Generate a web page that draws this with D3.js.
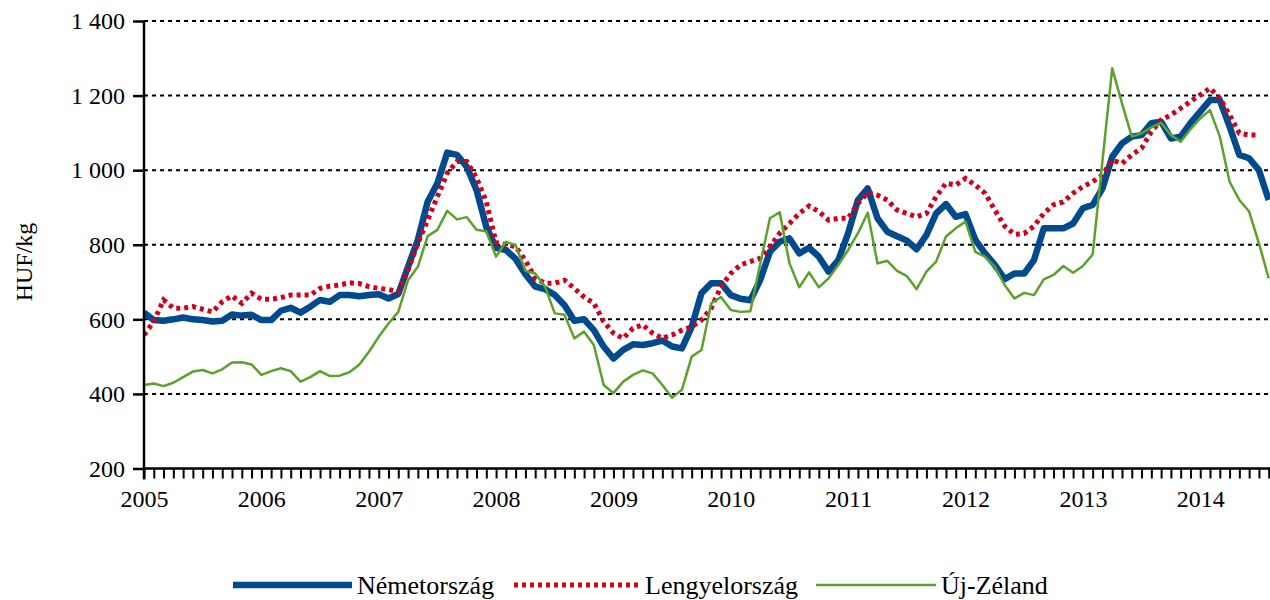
<!DOCTYPE html>
<html>
<head>
<meta charset="utf-8">
<script src="https://cdn.jsdelivr.net/npm/d3@7"></script>
<style>
  html, body { margin: 0; padding: 0; background: #fff; }
  svg { display: block; font-family: "Liberation Serif", "Times New Roman", serif; }
</style>
</head>
<body>
<svg id="chart" width="1270" height="600"></svg>
<script>
// Years shown on the axis (one label per January)
const yearLabels = ['2005', '2006', '2007', '2008', '2009', '2010', '2011', '2012', '2013', '2014'];
const yTicks = [200, 400, 600, 800, 1000, 1200, 1400];

// Monthly prices, HUF/kg, from 2005 January
const nemetorszag = [
    618, 598, 596, 600, 605, 600, 598, 594, 596, 613, 610, 612,
    598, 598, 623, 631, 618, 634, 652, 647, 665, 665, 662, 665,
    667, 656, 668, 741, 813, 915, 965, 1047, 1041, 1009, 947, 848,
    792, 786, 762, 721, 688, 681, 665, 638, 596, 600, 571, 527,
    495, 518, 533, 531, 536, 543, 527, 522, 580, 670, 697, 697,
    665, 655, 651, 705, 781, 808, 817, 777, 792, 768, 728, 759,
    831, 920, 951, 871, 835, 823, 811, 788, 826, 884, 909, 875,
    882, 813, 777, 746, 708, 723, 723, 759, 844, 844, 844, 857,
    898, 907, 951, 1036, 1072, 1090, 1094, 1126, 1130, 1085, 1090, 1126,
    1157, 1188, 1188, 1117, 1041, 1032, 1000, 920
];
const lengyelorszag = [
    558, 594, 652, 630, 630, 634, 627, 620, 647, 663, 643, 670,
    654, 654, 658, 665, 665, 665, 683, 689, 692, 698, 696, 688,
    683, 680, 674, 732, 804, 866, 929, 992, 1023, 1023, 980, 915,
    806, 800, 795, 758, 710, 697, 697, 705, 683, 660, 643, 594,
    563, 549, 576, 585, 563, 549, 558, 571, 580, 598, 630, 688,
    723, 746, 755, 764, 795, 831, 857, 884, 904, 889, 866, 871,
    871, 911, 940, 933, 920, 893, 884, 875, 884, 929, 965, 960,
    978, 960, 938, 893, 850, 828, 830, 850, 884, 907, 915, 938,
    956, 969, 987, 1027, 1018, 1041, 1059, 1103, 1135, 1148, 1166, 1184,
    1202, 1220, 1193, 1148, 1099, 1094, 1094
];
const ujZeland = [
    424, 428, 421, 430, 445, 460, 464, 455, 466, 484, 485, 479,
    451, 461, 469, 461, 433, 445, 461, 448, 449, 458, 478, 513,
    553, 589, 620, 705, 741, 823, 840, 891, 868, 874, 840, 836,
    768, 808, 799, 730, 723, 688, 616, 612, 549, 567, 531, 424,
    402, 433, 451, 463, 455, 424, 390, 411, 500, 518, 643, 660,
    625, 620, 622, 748, 871, 887, 750, 686, 726, 686, 710, 746,
    786, 831, 886, 750, 757, 730, 716, 681, 728, 755, 822, 844,
    862, 781, 768, 741, 692, 656, 671, 665, 707, 719, 743, 725,
    743, 774, 1025, 1273, 1179, 1090, 1099, 1115, 1127, 1094, 1076, 1110,
    1139, 1161, 1090, 969, 920, 889, 804, 710
];

const seriesNames = ['Németország', 'Lengyelország', 'Új-Zéland'];
const seriesColors = ['#004a8d', '#d0021b', '#5ba12c'];

// Layout
const margin = { left: 144, top: 21, bottom: 468.5 };
const monthStep = 9.78;
const nMonths = nemetorszag.length;

const svg = d3.select('#chart');

const x = d3.scaleLinear()
    .domain([0, nMonths - 1])
    .range([margin.left, margin.left + (nMonths - 1) * monthStep]);
const y = d3.scaleLinear()
    .domain([200, 1400])
    .range([margin.bottom, margin.top]);

const fmt = d3.formatLocale({ decimal: ',', thousands: ' ', grouping: [3], currency: ['', ''] }).format(',');

// Grid lines
svg.append('g')
    .attr('class', 'grid')
    .selectAll('line')
    .data(yTicks.filter(d => d > 200))
    .join('line')
    .attr('x1', margin.left)
    .attr('x2', 1270)
    .attr('y1', d => y(d))
    .attr('y2', d => y(d))
    .attr('stroke', '#000')
    .attr('stroke-width', 2)
    .attr('stroke-dasharray', '4 4');

// Series lines
svg.append('clipPath').attr('id', 'plotclip')
    .append('rect').attr('x', margin.left).attr('y', 0).attr('width', 1270 - margin.left).attr('height', 470);

const line = d3.line()
    .x((d, i) => x(i))
    .y(d => y(d));

const plotG = svg.append('g').attr('clip-path', 'url(#plotclip)');
plotG.append('path')
    .datum(nemetorszag)
    .attr('d', line)
    .attr('fill', 'none')
    .attr('stroke', seriesColors[0])
    .attr('stroke-width', 6.5)
    .attr('stroke-linejoin', 'round');
plotG.append('path')
    .datum(lengyelorszag)
    .attr('d', line)
    .attr('fill', 'none')
    .attr('stroke', seriesColors[1])
    .attr('stroke-width', 5)
    .attr('stroke-dasharray', '4 4');
plotG.append('path')
    .datum(ujZeland)
    .attr('d', line)
    .attr('fill', 'none')
    .attr('stroke', seriesColors[2])
    .attr('stroke-width', 2.5)
    .attr('stroke-linejoin', 'round');

// Y axis
const yAxisG = svg.append('g')
    .attr('transform', `translate(${margin.left},0)`)
    .call(d3.axisLeft(y).tickValues(yTicks).tickSize(11).tickPadding(8).tickFormat(fmt));
yAxisG.select('.domain').attr('stroke', '#000').attr('stroke-width', 2.5).attr('d', `M0,${margin.top}V${margin.bottom + 11}`);
yAxisG.selectAll('.tick line').attr('stroke', '#000').attr('stroke-width', 2.5);
yAxisG.selectAll('text')
    .attr('font-size', 24)
    .attr('fill', '#000')
    .attr('font-family', '"Liberation Serif", serif');

// X axis: monthly ticks
const xAxisG = svg.append('g')
    .attr('transform', `translate(0,${margin.bottom})`)
    .call(d3.axisBottom(x).tickValues(d3.range(0, nMonths + 1)).tickSize(10).tickFormat(''));
xAxisG.select('.domain').attr('stroke', '#000').attr('stroke-width', 2.5).attr('d', `M${margin.left},0H1270`);
xAxisG.selectAll('.tick line').attr('stroke', '#000').attr('stroke-width', 2);

// Year labels
const xLabelG = svg.append('g')
    .attr('transform', `translate(0,${margin.bottom})`)
    .call(d3.axisBottom(x).tickValues(yearLabels.map((d, i) => i * 12)).tickSize(0).tickFormat((d, i) => yearLabels[i]));
xLabelG.select('.domain').remove();
xLabelG.selectAll('text')
    .attr('y', 38)
    .attr('dy', 0)
    .attr('font-size', 24)
    .attr('fill', '#000')
    .attr('font-family', '"Liberation Serif", serif');

// Y axis title
svg.append('text')
    .attr('transform', 'translate(32,262) rotate(-90)')
    .attr('text-anchor', 'middle')
    .attr('font-size', 24)
    .text('HUF/kg');

// Legend
const legendItems = [
    { name: seriesNames[0], x1: 233, x2: 352, color: seriesColors[0], width: 6.5, dash: null },
    { name: seriesNames[1], x1: 514, x2: 640, color: seriesColors[1], width: 5, dash: '4 4' },
    { name: seriesNames[2], x1: 816, x2: 936, color: seriesColors[2], width: 2.5, dash: null }
];
const legendG = svg.append('g').attr('class', 'legend');
legendItems.forEach(item => {
    legendG.append('line')
        .attr('x1', item.x1).attr('x2', item.x2)
        .attr('y1', 585).attr('y2', 585)
        .attr('stroke', item.color)
        .attr('stroke-width', item.width)
        .attr('stroke-dasharray', item.dash);
    legendG.append('text')
        .attr('x', item.x2 + 5)
        .attr('y', 594)
        .attr('font-size', 26)
        .text(item.name);
});
</script>
</body>
</html>
